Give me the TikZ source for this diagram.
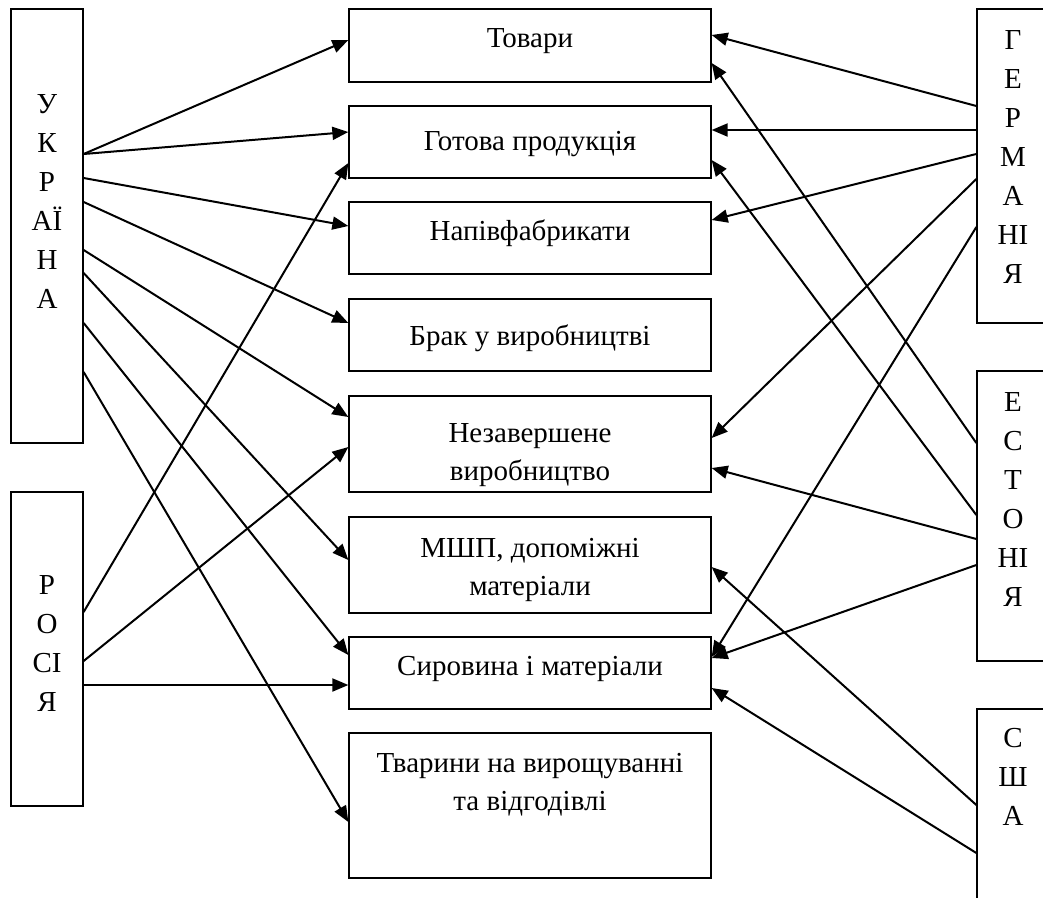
\documentclass[tikz,border=0pt]{standalone}
\usepackage{fontspec}
\setmainfont{Liberation Serif}
\usetikzlibrary{arrows.meta}
\tikzset{
  box/.style={draw=black, line width=1.3pt, rectangle, inner sep=0pt, minimum width=#1},
  cbox/.style={box=362pt},
  sbox/.style={box=72pt},
  lbl/.style={anchor=north, inner sep=0pt, align=center, font=\fontsize{29}{38}\selectfont},
  vlbl/.style={anchor=north, inner sep=0pt, align=center, font=\fontsize{29}{39}\selectfont},
  arr/.style={line width=2pt, -{Triangle[length=16pt,width=13pt]}}
}
\begin{document}
\begin{tikzpicture}[x=1pt,y=-1pt]
\useasboundingbox (0,0) rectangle (1043,897);
\clip (0,0) rectangle (1043,897);
% side boxes
\node[sbox, minimum height=434pt] (ua) at (47,226) {};
\node[sbox, minimum height=314pt] (ru) at (47,649) {};
\node[sbox, minimum height=314pt] (de) at (1013,166) {};
\node[sbox, minimum height=290pt] (ee) at (1013,516) {};
\node[sbox, minimum height=221pt] (us) at (1013,819.5) {};
% centre boxes
\node[cbox, minimum height=73pt] (b1) at (530,45.5) {};
\node[cbox, minimum height=72pt] (b2) at (530,142) {};
\node[cbox, minimum height=72pt] (b3) at (530,238) {};
\node[cbox, minimum height=72pt] (b4) at (530,335) {};
\node[cbox, minimum height=96pt] (b5) at (530,444) {};
\node[cbox, minimum height=96pt] (b6) at (530,565) {};
\node[cbox, minimum height=72pt] (b7) at (530,673) {};
\node[cbox, minimum height=145pt] (b8) at (530,805.5) {};
% labels (north = first baseline - 0.7*baselineskip)
\node[lbl] (t1) at (530,20.4) {\strut Товари};
\node[lbl] (t2) at (530,123.4) {\strut Готова продукція};
\node[lbl] (t3) at (530,213.4) {\strut Напівфабрикати};
\node[lbl] (t4) at (530,318.4) {\strut Брак у виробництві};
\node[lbl] (t5) at (530,415.4) {\strut Незавершене\\виробництво};
\node[lbl] (t6) at (530,530.4) {\strut МШП, допоміжні\\матеріали};
\node[lbl] (t7) at (530,648.4) {\strut Сировина і матеріали};
\node[lbl] (t8) at (530,745.4) {\strut Тварини на вирощуванні\\та відгодівлі};
\node[vlbl] (tua) at (47,85.7) {\strut У\\К\\Р\\АЇ\\Н\\А};
\node[vlbl] (tru) at (47,566.7) {\strut Р\\О\\СІ\\Я};
\node[vlbl] (tde) at (1013,21.7) {\strut Г\\Е\\Р\\М\\А\\НІ\\Я};
\node[vlbl] (tee) at (1013,383.7) {\strut Е\\С\\Т\\О\\НІ\\Я};
\node[vlbl] (tus) at (1013,719.7) {\strut С\\Ш\\А};
% arrows from Ukraine
\draw[arr] (ua.east |- 0,154) -- (b1.west |- 0,40);
\draw[arr] (ua.east |- 0,154) -- (b2.west |- 0,132);
\draw[arr] (ua.east |- 0,178) -- (b3.west |- 0,226);
\draw[arr] (ua.east |- 0,202) -- (b4.west |- 0,323);
\draw[arr] (ua.east |- 0,250) -- (b5.west |- 0,417);
\draw[arr] (ua.east |- 0,273) -- (b6.west |- 0,560);
\draw[arr] (ua.east |- 0,323) -- (b7.west |- 0,655);
\draw[arr] (ua.east |- 0,372) -- (b8.west |- 0,822);
% arrows from Russia
\draw[arr] (ru.east |- 0,612) -- (b2.west |- 0,163);
\draw[arr] (ru.east |- 0,661) -- (b5.west |- 0,447);
\draw[arr] (ru.east |- 0,685) -- (b7.west |- 0,685);
% arrows from Germany
\draw[arr] (de.west |- 0,106) -- (b1.east |- 0,35);
\draw[arr] (de.west |- 0,130) -- (b2.east |- 0,130);
\draw[arr] (de.west |- 0,154) -- (b3.east |- 0,220);
\draw[arr] (de.west |- 0,179) -- (b5.east |- 0,438);
\draw[arr] (de.west |- 0,227) -- (b7.east |- 0,657);
% arrows from Estonia
\draw[arr] (ee.west |- 0,443) -- (b1.east |- 0,63);
\draw[arr] (ee.west |- 0,515) -- (b2.east |- 0,160);
\draw[arr] (ee.west |- 0,539) -- (b5.east |- 0,468);
\draw[arr] (ee.west |- 0,565) -- (b7.east |- 0,658);
% arrows from USA
\draw[arr] (us.west |- 0,805) -- (b6.east |- 0,567);
\draw[arr] (us.west |- 0,853) -- (b7.east |- 0,688);
\end{tikzpicture}
\end{document}
